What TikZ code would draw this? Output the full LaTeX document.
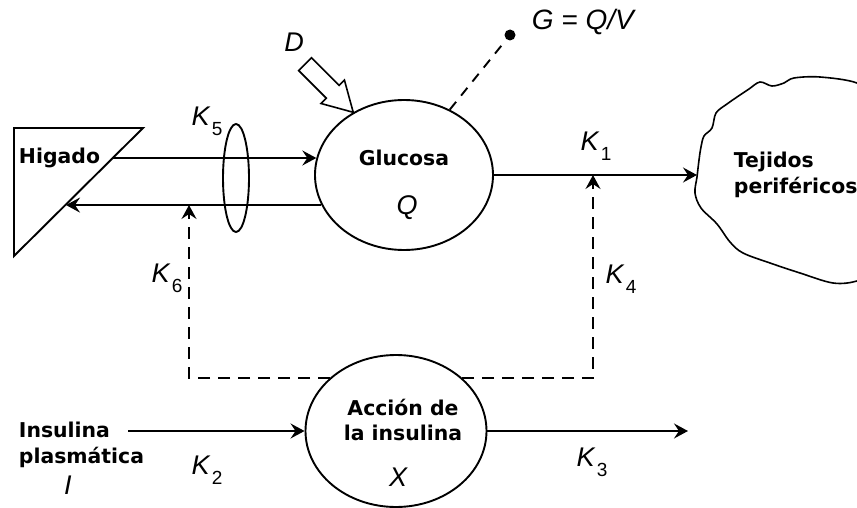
\documentclass[tikz,border=0pt]{standalone}
\usepackage{fontspec}
\setmainfont{Liberation Sans}
\newfontfamily\boxfont{DejaVu Sans}
\usetikzlibrary{positioning,arrows.meta,shapes.geometric,calc}
\newcommand{\kk}[1]{\textit{K}\kern1.2pt\raisebox{-0.7ex}{\upshape\fontsize{9.5}{9.5}\selectfont #1}}
\tikzset{
  tag/.style={font=\boxfont\bfseries\fontsize{10.2}{12.8}\selectfont, inner sep=0pt},
  sym/.style={font=\itshape\fontsize{13.5}{15}\selectfont, inner sep=0pt},
  bubble/.style={draw, ellipse, inner sep=0pt},
  arr/.style={-{Stealth[length=7pt,width=7.5pt,inset=2.5pt]}},
  darr/.style={arr, dash pattern=on 6pt off 4pt},
  dline/.style={dash pattern=on 5pt off 4pt},
}

\begin{document}
\begin{tikzpicture}[x=0.5pt, y=-0.5pt, line width=0.95pt]
  \useasboundingbox (0,0) rectangle (857,508);
  \clip (0,0) rectangle (857,508);

  % compartments
  \node[bubble, minimum width=89pt, minimum height=75pt] (glu) at (404,175) {};
  \node[bubble, minimum width=90.5pt, minimum height=76pt] (ins) at (396,431) {};
  \node[bubble, minimum width=13pt, minimum height=54pt] (ring) at (236,178) {};
  \node[tag] (glutxt) at (404,158) {Glucosa};
  \node[sym] (qsym) at (407,208) {Q};
  \node[tag, align=center] (instxt) at (403,420) {Acción de\\la insulina};
  \node[sym] (xsym) at (398,477) {X};

  % liver
  \draw (14,128) -- (143,128) -- (14,256) -- cycle;
  \node[tag, anchor=west] (hig) at (18,158) {Higado};
  \coordinate (higout) at (113,158);
  \coordinate (higin) at (66,205);

  % peripheral tissue
  \draw[line width=0.8pt] plot[smooth cycle, tension=0.55] coordinates {
    (697,177) (699,160) (701,147) (704,136) (712,128) (716,113) (727,104)
    (740,95) (749,89) (760,82) (772,86) (784,83) (794,78) (820,77) (857,83)
    (880,100) (880,270) (857,281) (833,283) (800,273) (770,263) (743,253)
    (730,242) (717,224) (701,208) (695,193)};
  \node[tag, align=left, anchor=west] (tej) at (733,175) {Tejidos\\periféricos};
  \coordinate (tejin) at (697,175);

  % glucose fluxes
  \draw[arr] (higout) -- (higout -| glu.169);
  \draw[arr] (glu.200) -- (glu.200 -| higin);
  \draw[arr] (glu.east) -- (tejin);

  % dose
  \coordinate (dtip) at (glu.129);
  \draw[line width=0.8pt] (dtip) -- ++(-8.8,-32.2) -- ++(-5.3,5.3) -- ++(-27.6,-27.6)
    -- ++(-12.8,12.8) -- ++(27.6,27.6) -- ++(-5.3,5.3) -- cycle;
  \node[sym] (dlab) at (294,42) {D};

  % concentration
  \node[circle, fill, inner sep=0pt, minimum size=5.5pt] (gdot) at (510,35) {};
  \draw[dline] (glu.55) -- (gdot);
  \node[sym, anchor=west, font=\itshape\fontsize{14}{15}\selectfont] (geq) at (531,22) {G = Q/V};

  % insulin action
  \coordinate (k6tip) at (189,205);
  \coordinate (k4tip) at (593,175);
  \draw[darr] (ins.141) -| (k6tip);
  \draw[darr] (ins.39) -| (k4tip);

  \node[tag, align=left, anchor=west] (ipl) at (18,445) {Insulina\\plasmática};
  \node[sym] (isym) at (68,485) {I};
  \coordinate (iplout) at (128,431);
  \coordinate (xout) at (688,431);
  \draw[arr] (iplout) -- (ins.west);
  \draw[arr] (ins.east) -- (xout);

  % rate constants
  \node[sym] (k5) at (207,121) {\kk{5}};
  \node[sym] (k6) at (167,278) {\kk{6}};
  \node[sym] (k1) at (596,146) {\kk{1}};
  \node[sym] (k4) at (621,279) {\kk{4}};
  \node[sym] (k2) at (207,470) {\kk{2}};
  \node[sym] (k3) at (592,462) {\kk{3}};
\end{tikzpicture}
\end{document}
